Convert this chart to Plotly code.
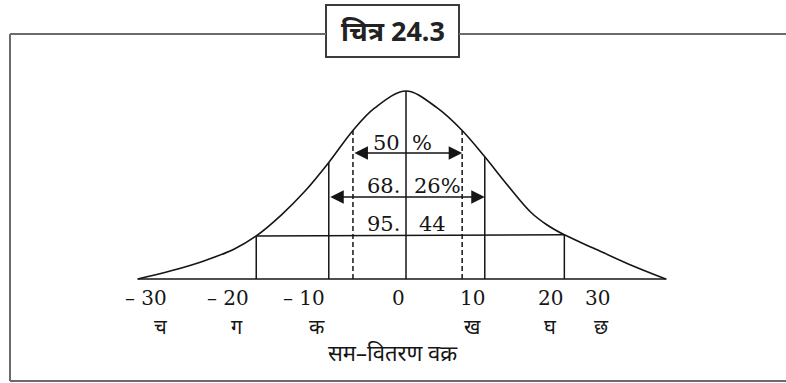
import plotly.graph_objects as go

# Bell curve traced in standard-deviation units (z) with relative height (peak = 1)
curve_z = [-3.44, -3.0, -2.6, -2.2, -1.92, -1.6, -1.3, -0.99, -0.68, -0.4, 0.0,
           0.4, 0.72, 1.01, 1.3, 1.6, 1.8, 2.03, 2.4, 2.85, 3.33]
curve_h = [0.0, 0.045, 0.095, 0.16, 0.229, 0.34, 0.465, 0.62, 0.79, 0.91, 1.0,
           0.91, 0.79, 0.65, 0.50, 0.355, 0.29, 0.235, 0.165, 0.08, 0.0]

# Central areas and the ordinates that bound them
band_pct_left = ["50", "68.", "95."]
band_pct_right = ["%", "26%", "44"]
band_left_z = [-0.68, -0.99, -1.92]
band_right_z = [0.72, 1.01, 2.03]
band_left_h = [0.79, 0.62, 0.229]
band_right_h = [0.79, 0.65, 0.235]

# Scale labels under the base line
tick_values = [-30, -20, -10, 0, 10, 20, 30]
tick_letters = ["च", "ग", "क", "", "ख", "घ", "छ"]
tick_pos = [-3.33, -2.28, -1.31, -0.10, 0.85, 1.85, 2.45]
letter_pos = [-3.15, -2.17, -1.14, -0.10, 0.85, 1.85, 2.51]

title_text = "चित्र 24.3"
caption_text = "सम–वितरण वक्र"

W, H = 786, 383
SIG_PX, X0_PX = 78.0, 406.0      # pixels per σ, centre of the curve
BASE_PX, PEAK_PX = 279.0, 91.0   # base line and peak
UNIT_PX = BASE_PX - PEAK_PX

def yh(py):
    return (BASE_PX - py) / UNIT_PX

def xz(px):
    return (px - X0_PX) / SIG_PX

INK = "#151515"
SERIF = "DejaVu Serif, Liberation Serif, serif"
DEVA = "Noto Sans, Noto Sans Devanagari, sans-serif"

fig = go.Figure()
fig.add_trace(go.Scatter(x=curve_z, y=curve_h, mode="lines",
                         line=dict(color=INK, width=1.6, shape="spline", smoothing=1.0),
                         hoverinfo="skip", showlegend=False))

shapes = []
# base line
shapes.append(dict(type="line", xref="x", yref="y", x0=curve_z[0], x1=curve_z[-1] + 0.01,
                   y0=0, y1=0, line=dict(color=INK, width=1.6)))
# mean ordinate
shapes.append(dict(type="line", xref="x", yref="y", x0=0, x1=0, y0=0, y1=curve_h[10],
                   line=dict(color=INK, width=1.5)))
# ordinates bounding each band
for i in range(3):
    dash = "5px,3px" if i == 0 else "solid"
    for zz, hh in ((band_left_z[i], band_left_h[i]), (band_right_z[i], band_right_h[i])):
        shapes.append(dict(type="line", xref="x", yref="y", x0=zz, x1=zz, y0=0, y1=hh,
                           line=dict(color=INK, width=1.5, dash=dash)))
# chord joining the outer ordinates (95.44 %)
shapes.append(dict(type="line", xref="x", yref="y", x0=band_left_z[2], x1=band_right_z[2],
                   y0=band_left_h[2], y1=band_right_h[2], line=dict(color=INK, width=1.5)))

# page frame with the caption box
FRAME = "#6b6b6b"
def px_x(px):
    return px / W

def px_y(py):
    return 1 - py / H

box_l, box_r, box_t, box_b, top_y = 326, 459, 5, 57, 34
shapes.append(dict(type="line", xref="paper", yref="paper", x0=px_x(10), x1=px_x(box_l),
                   y0=px_y(top_y), y1=px_y(top_y), line=dict(color=FRAME, width=2)))
shapes.append(dict(type="line", xref="paper", yref="paper", x0=px_x(box_r), x1=1.0,
                   y0=px_y(top_y), y1=px_y(top_y), line=dict(color=FRAME, width=2)))
shapes.append(dict(type="line", xref="paper", yref="paper", x0=px_x(10), x1=px_x(10),
                   y0=px_y(top_y), y1=px_y(381), line=dict(color=FRAME, width=2)))
shapes.append(dict(type="line", xref="paper", yref="paper", x0=px_x(10), x1=1.0,
                   y0=px_y(381), y1=px_y(381), line=dict(color=FRAME, width=2)))
shapes.append(dict(type="rect", xref="paper", yref="paper", x0=px_x(box_l), x1=px_x(box_r),
                   y0=px_y(box_b), y1=px_y(box_t), fillcolor="white", layer="below",
                   line=dict(color="#3c3c3c", width=2)))

ann = []
ann.append(dict(text="<b>" + title_text + "</b>", xref="paper", yref="paper",
                x=px_x((box_l + box_r) / 2), y=px_y(31), xanchor="center", yanchor="middle",
                showarrow=False, font=dict(family=DEVA, size=27, color="#222")))

# double arrows for the 50 % and 68.26 % bands
arrow_y = [yh(153), yh(197)]
for i in range(2):
    ann.append(dict(x=band_right_z[i], y=arrow_y[i], ax=band_left_z[i], ay=arrow_y[i],
                    xref="x", yref="y", axref="x", ayref="y", text="", showarrow=True,
                    arrowhead=2, startarrowhead=2, arrowside="end+start",
                    arrowsize=1.8, startarrowsize=1.8, arrowwidth=1.5, arrowcolor=INK,
                    standoff=0, startstandoff=0))

# percentage labels split by the mean ordinate
label_y = [yh(143), yh(186), yh(224)]
right_gap = [xz(410), xz(412), xz(417)]
for i in range(3):
    ann.append(dict(text=band_pct_left[i], x=xz(402), y=label_y[i], xref="x", yref="y",
                    xanchor="right", yanchor="middle", showarrow=False,
                    font=dict(family=SERIF, size=21, color=INK)))
    ann.append(dict(text=band_pct_right[i], x=right_gap[i], y=label_y[i], xref="x", yref="y",
                    xanchor="left", yanchor="middle", showarrow=False,
                    font=dict(family=SERIF, size=21, color=INK)))

# scale values and letters
for v, p in zip(tick_values, tick_pos):
    t = ("– " + str(abs(v))) if v < 0 else str(v)
    ann.append(dict(text=t, x=p, y=yh(298), xref="x", yref="y", showarrow=False,
                    yanchor="middle", font=dict(family=SERIF, size=20, color=INK)))
for s, p in zip(tick_letters, letter_pos):
    if s:
        ann.append(dict(text=s, x=p, y=yh(326), xref="x", yref="y", showarrow=False,
                        yanchor="middle", font=dict(family=DEVA, size=20, color=INK)))
ann.append(dict(text=caption_text, x=xz(393), y=yh(352), xref="x", yref="y",
                showarrow=False, yanchor="middle",
                font=dict(family=DEVA, size=22, color=INK)))

fig.update_layout(
    width=W, height=H, margin=dict(l=0, r=0, t=0, b=0),
    paper_bgcolor="white", plot_bgcolor="white",
    xaxis=dict(range=[xz(0), xz(W)], visible=False, fixedrange=True),
    yaxis=dict(range=[yh(H), yh(0)], visible=False, fixedrange=True),
    shapes=shapes, annotations=ann, showlegend=False,
)

fig.write_html("out.html", config={"displayModeBar": False})
